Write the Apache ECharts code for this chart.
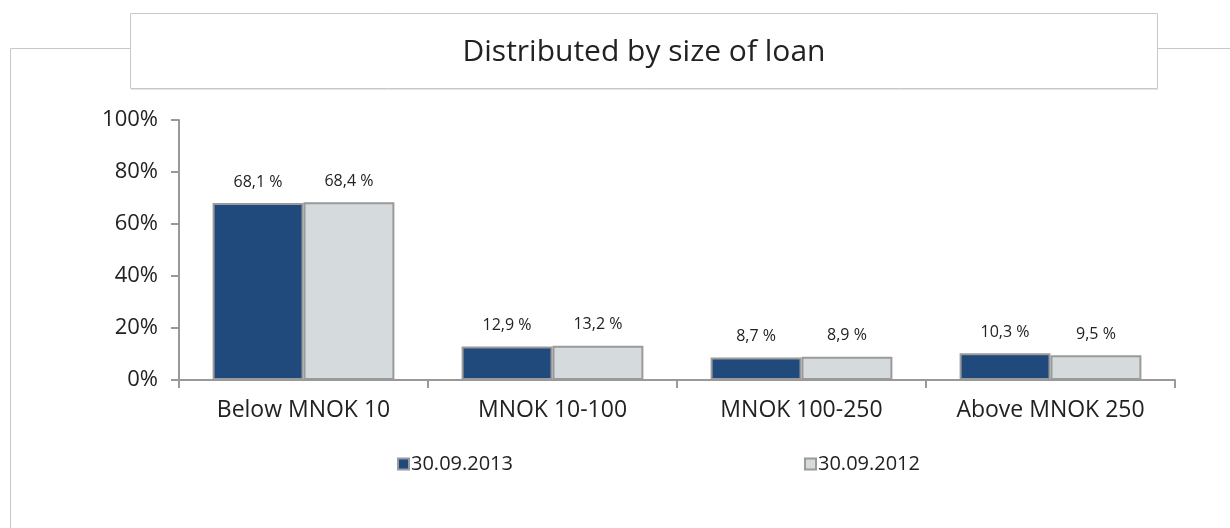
<!DOCTYPE html>
<html><head><meta charset="utf-8">
<script src="https://cdn.jsdelivr.net/npm/echarts@6/dist/echarts.min.js"></script>
<style>html,body{margin:0;padding:0;background:#fff}#c{width:1230px;height:528px}</style>
</head><body><div id="c"></div>
<script>
const categories = ['Below MNOK 10', 'MNOK 10-100', 'MNOK 100-250', 'Above MNOK 250'];
const series2013 = [68.1, 12.9, 8.7, 10.3];
const series2012 = [68.4, 13.2, 8.9, 9.5];
const seriesNames = ['30.09.2013', '30.09.2012'];
const yTicks = [0, 20, 40, 60, 80, 100];
const titleText = 'Distributed by size of loan';

const fmt = v => v.toFixed(1).replace('.', ',') + ' %';
const chart = echarts.init(document.getElementById('c'));
const lbl = {show: true, position: 'top', distance: 13, color: '#222', fontSize: 16,
  fontFamily: 'Open Sans', formatter: p => fmt(p.value)};
const legendCommon = {top: 449, itemWidth: 11, itemHeight: 11, icon: 'rect',
  textStyle: {fontSize: 20, color: '#222', fontFamily: 'Open Sans', padding: [0, 0, 0, -3]}};
chart.setOption({
  animation: false,
  graphic: [
    {type: 'polyline', shape: {points: [[10.5, 528], [10.5, 48.5], [130, 48.5]]}, style: {stroke: '#c8c8c8', lineWidth: 1, fill: null}},
    {type: 'line', shape: {x1: 1158, y1: 48.5, x2: 1230, y2: 48.5}, style: {stroke: '#c8c8c8', lineWidth: 1}},
    {type: 'rect', shape: {x: 130.5, y: 13.5, width: 1027, height: 75}, style: {fill: '#fff', stroke: '#c8c8c8', lineWidth: 1}},
    {type: 'line', shape: {x1: 131, y1: 89.5, x2: 1158, y2: 89.5}, style: {stroke: '#e4e4e4', lineWidth: 1}},
    {type: 'text', x: 644, y: 52, style: {text: titleText, fontSize: 30, fontFamily: 'Open Sans', fill: '#222', align: 'center', verticalAlign: 'middle'}}
  ],
  grid: {left: 179, right: 55, top: 120, bottom: 148},
  legend: [
    Object.assign({data: [seriesNames[0]], left: 392}, legendCommon),
    Object.assign({data: [seriesNames[1]], left: 799}, legendCommon)
  ],
  xAxis: {
    type: 'category', data: categories,
    axisLine: {lineStyle: {color: '#999', width: 2}},
    axisTick: {show: true, interval: 0, length: 8, lineStyle: {color: '#999', width: 2}},
    axisLabel: {interval: 0, hideOverlap: false, fontSize: 23, color: '#222', fontFamily: 'Open Sans', margin: 19}
  },
  yAxis: {
    type: 'value', min: 0, max: 100, interval: 20,
    axisLine: {show: true, lineStyle: {color: '#999', width: 2}},
    axisTick: {show: true, length: 8, lineStyle: {color: '#999', width: 2}},
    splitLine: {show: false},
    axisLabel: {fontSize: 22, color: '#222', fontFamily: 'Open Sans', margin: 21,
      formatter: v => yTicks.includes(v) ? v + '%' : ''}
  },
  series: [
    {name: seriesNames[0], type: 'bar', data: series2013, barGap: '0%', barCategoryGap: '27%',
      itemStyle: {color: '#20497c', borderColor: '#9a9a9a', borderWidth: 2}, label: lbl},
    {name: seriesNames[1], type: 'bar', data: series2012,
      itemStyle: {color: '#d5dadd', borderColor: '#9a9a9a', borderWidth: 2}, label: lbl}
  ]
});
</script></body></html>
